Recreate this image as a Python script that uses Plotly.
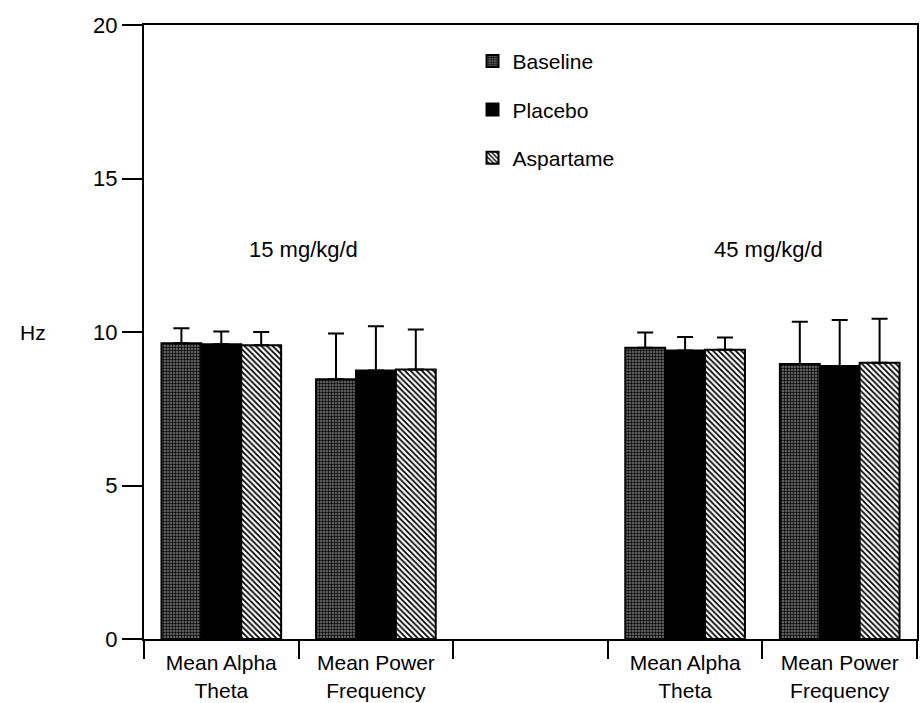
import plotly.graph_objects as go

# ---- data ----
categories = ["Mean Alpha<br>Theta", "Mean Power<br>Frequency", "",
              "Mean Alpha<br>Theta", "Mean Power<br>Frequency"]
x_pos = [0, 1, 2, 3, 4]
boundaries = [-0.5, 0.5, 1.5, 2.5, 3.5, 4.5]

baseline = [9.63, 8.46, None, 9.49, 8.96]
baseline_err = [0.49, 1.49, None, 0.49, 1.37]
placebo = [9.60, 8.75, None, 9.40, 8.89]
placebo_err = [0.42, 1.44, None, 0.44, 1.50]
aspartame = [9.57, 8.78, None, 9.42, 9.00]
aspartame_err = [0.43, 1.30, None, 0.40, 1.43]

series_names = ["Baseline", "Placebo", "Aspartame"]
dose_labels = ["15 mg/kg/d", "45 mg/kg/d"]
dose_x = [0.53, 3.54]
dose_y = [12.68, 12.68]
y_ticks = [0, 5, 10, 15, 20]

FONT = "Liberation Sans, Arial, Helvetica, sans-serif"

fig = go.Figure()

styles = [
    dict(color="white", pattern=dict(shape=".", size=3, solidity=0.5,
                                     fgcolor="black", bgcolor="#7a7a7a", fillmode="replace")),
    dict(color="black"),
    dict(color="white", pattern=dict(shape="\\", size=4, solidity=0.45,
                                     fgcolor="black", bgcolor="white", fillmode="replace")),
]

for i, (name, vals, errs) in enumerate(zip(series_names,
                                            [baseline, placebo, aspartame],
                                            [baseline_err, placebo_err, aspartame_err])):
    st = styles[i]
    marker = dict(color=st["color"], line=dict(color="black", width=2))
    if "pattern" in st:
        marker["pattern"] = st["pattern"]
    fig.add_trace(go.Bar(
        x=x_pos, y=vals, name=name, legendgroup=name,
        marker=marker,
        error_y=dict(type="data", symmetric=False, array=errs,
                     arrayminus=[0 if e is not None else None for e in errs],
                     color="black", thickness=2, width=8),
    ))

for txt, xx, yy in zip(dose_labels, dose_x, dose_y):
    fig.add_annotation(x=xx, y=yy, xref="x", yref="y", text=txt, showarrow=False,
                       font=dict(size=22, color="black", family=FONT))

fig.add_annotation(x=-0.143, y=0.5, xref="paper", yref="paper", text="Hz",
                   xanchor="center", yanchor="middle",
                   showarrow=False, font=dict(size=21, color="black", family=FONT))

fig.update_layout(
    width=920, height=703,
    margin=dict(l=144, r=1, t=25, b=63),
    paper_bgcolor="white", plot_bgcolor="white",
    barmode="group", bargap=0.226, bargroupgap=0,
    font=dict(family=FONT, color="black", size=22),
    legend=dict(x=0.425, y=0.974, xanchor="left", yanchor="top",
                font=dict(size=21, family=FONT), tracegroupgap=18,
                bgcolor="rgba(0,0,0,0)"),
    xaxis=dict(range=[-0.5, 4.5], tickmode="array", tickvals=x_pos, ticktext=categories,
               ticks="", showline=True, linecolor="black", linewidth=2, mirror=True,
               showgrid=False, zeroline=False, ticklabelstandoff=4,
               tickfont=dict(size=21, family=FONT),
               minor=dict(tickmode="array", tickvals=boundaries, ticks="outside",
                          ticklen=18, tickwidth=2, tickcolor="black", showgrid=False)),
    yaxis=dict(range=[0, 20], tickmode="array", tickvals=y_ticks, ticks="outside",
               ticklen=20, tickwidth=2, tickcolor="black",
               showline=True, linecolor="black", linewidth=2, mirror=True,
               showgrid=False, zeroline=False, tickfont=dict(size=22, family=FONT)),
)

fig.write_html("out.html", config={"displayModeBar": False},
               post_script="document.body.style.margin='0';document.body.style.overflow='hidden';")
